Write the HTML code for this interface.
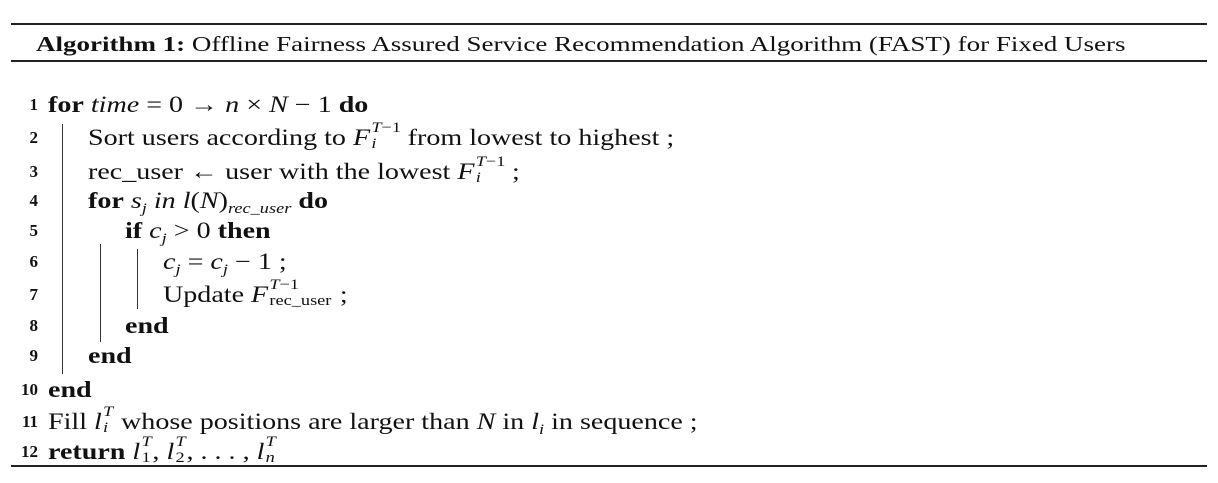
<!DOCTYPE html>
<html><head><meta charset="utf-8"><style>
body{margin:0;width:1218px;height:483px;background:#fff;position:relative;overflow:hidden;font-family:"Liberation Serif",serif;color:#111}
.r{position:absolute;left:11px;width:1196px;background:#222}
.l{position:absolute;font-size:23px;line-height:26px;height:26px;white-space:nowrap;transform:scaleX(1.22);transform-origin:0 50%}
.n{position:absolute;width:28px;text-align:right;font-size:17px;font-weight:bold;line-height:26px}
.b{position:absolute;width:1.3px;background:#333}
sub{font-size:15px;line-height:0;vertical-align:-5px}
.ss{display:inline-block;position:relative;height:10px;font-size:15px;line-height:15px;margin-left:1px}
.ss .up{position:absolute;left:0;top:-14px;white-space:nowrap}
.ss .dn{position:absolute;left:0;top:2px;white-space:nowrap}
</style></head><body>
<div class="r" style="top:23px;height:2px"></div>
<div class="l" style="left:36px;top:31px;font-size:21px;transform:scaleX(1.285)"><b>Algorithm 1:</b> Offline Fairness Assured Service Recommendation Algorithm (FAST) for Fixed Users</div>
<div class="r" style="top:60px;height:2px"></div>

<div class="b" style="left:62px;top:124px;height:250px"></div>
<div class="b" style="left:100px;top:244px;height:98px"></div>
<div class="b" style="left:137px;top:249px;height:60px"></div>

<div class="n" style="left:10px;top:92px">1</div>
<div class="l" style="left:48px;top:92px"><b>for</b> <i>time</i> = 0 → <i>n</i> × <i>N</i> − 1 <b>do</b></div>
<div class="n" style="left:10px;top:125px">2</div>
<div class="l" style="left:88px;top:125px">Sort users according to <i>F</i><span class="ss" style="width:24px"><span class="up"><i>T</i>−1</span><span class="dn"><i>i</i></span></span> from lowest to highest ;</div>
<div class="n" style="left:10px;top:159px">3</div>
<div class="l" style="left:88px;top:159px">rec_user ← user with the lowest <i>F</i><span class="ss" style="width:24px"><span class="up"><i>T</i>−1</span><span class="dn"><i>i</i></span></span> ;</div>
<div class="n" style="left:10px;top:188px">4</div>
<div class="l" style="left:88px;top:188px"><b>for</b> <i>s<sub>j</sub> in l</i>(<i>N</i>)<sub><i>rec_user</i></sub> <b>do</b></div>
<div class="n" style="left:10px;top:218px">5</div>
<div class="l" style="left:125px;top:218px"><b>if</b> <i>c<sub>j</sub></i> &gt; 0 <b>then</b></div>
<div class="n" style="left:10px;top:249px">6</div>
<div class="l" style="left:163px;top:249px"><i>c<sub>j</sub></i> = <i>c<sub>j</sub></i> − 1 ;</div>
<div class="n" style="left:10px;top:282px">7</div>
<div class="l" style="left:163px;top:282px">Update <i>F</i><span class="ss" style="width:52px"><span class="up"><i>T</i>−1</span><span class="dn">rec_user</span></span> ;</div>
<div class="n" style="left:10px;top:313px">8</div>
<div class="l" style="left:125px;top:313px"><b>end</b></div>
<div class="n" style="left:10px;top:343px">9</div>
<div class="l" style="left:88px;top:343px"><b>end</b></div>
<div class="n" style="left:10px;top:377px">10</div>
<div class="l" style="left:48px;top:377px"><b>end</b></div>
<div class="n" style="left:10px;top:409px">11</div>
<div class="l" style="left:48px;top:409px">Fill <i>l</i><span class="ss" style="width:9px"><span class="up"><i>T</i></span><span class="dn"><i>i</i></span></span> whose positions are larger than <i>N</i> in <i>l<sub>i</sub></i> in sequence ;</div>
<div class="n" style="left:10px;top:439px">12</div>
<div class="l" style="left:48px;top:439px"><b>return</b> <i>l</i><span class="ss" style="width:9px"><span class="up"><i>T</i></span><span class="dn">1</span></span>, <i>l</i><span class="ss" style="width:9px"><span class="up"><i>T</i></span><span class="dn">2</span></span>, . . . , <i>l</i><span class="ss" style="width:9px"><span class="up"><i>T</i></span><span class="dn"><i>n</i></span></span></div>
<div class="r" style="top:465px;height:2px"></div>
</body></html>
